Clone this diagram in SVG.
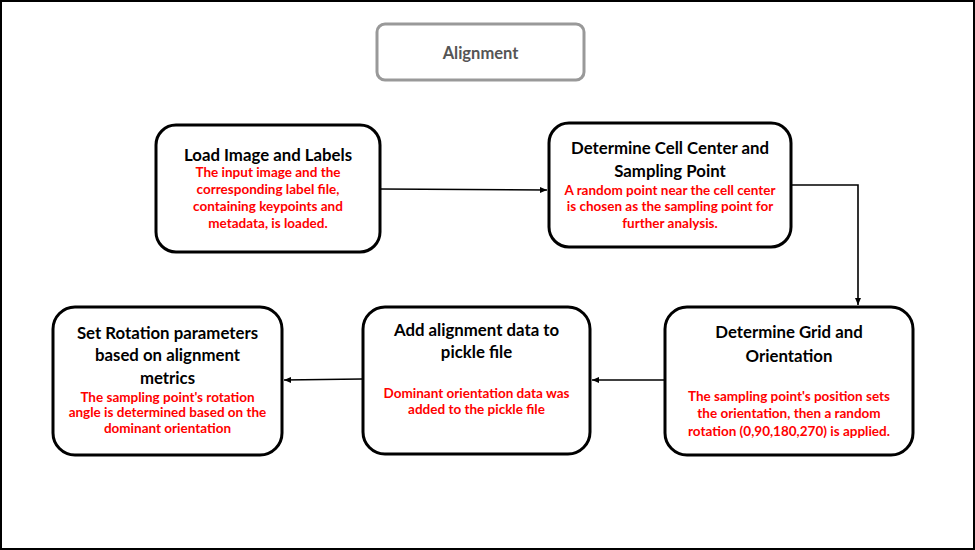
<svg xmlns="http://www.w3.org/2000/svg" width="975" height="550" viewBox="0 0 975 550">
<defs>
<style>
.box{fill:#fff;stroke:#000;stroke-width:3}
.t{font-family:Lato,"Liberation Sans",sans-serif;font-weight:bold;font-size:16.8px;fill:#000;text-anchor:middle}
.r{font-family:Lato,"Liberation Sans",sans-serif;font-weight:bold;font-size:13.5px;fill:#ff0000;text-anchor:middle}
.c{fill:none;stroke:#000;stroke-width:1.6}
</style>
<marker id="ah" markerWidth="8" markerHeight="8" refX="7" refY="4" orient="auto" markerUnits="userSpaceOnUse">
<path d="M0,1 L7,4 L0,7 Z" fill="#000"/>
</marker>
</defs>
<rect x="0" y="0" width="975" height="550" fill="#fff"/>
<rect x="1" y="1" width="973" height="548" fill="none" stroke="#000" stroke-width="2"/>
<g id="title">
<rect x="377" y="24" width="207" height="56" rx="8" fill="#fff" stroke="#999" stroke-width="3"/>
<text x="480.5" y="59" style="font-family:Lato,'Liberation Sans',sans-serif;font-weight:bold;font-size:16.5px;fill:#555;text-anchor:middle">Alignment</text>
</g>
<g id="connectors">
<path class="c" d="M380,189 L547,190" marker-end="url(#ah)"/>
<path class="c" d="M791,185 L858,185 L858,305" marker-end="url(#ah)"/>
<path class="c" d="M665,380 L592,380" marker-end="url(#ah)"/>
<path class="c" d="M362,379 L284,380" marker-end="url(#ah)"/>
</g>
<g id="n1">
<rect class="box" x="156" y="125" width="224" height="127" rx="20"/>
<text class="t" x="268" y="161">Load Image and Labels</text>
<text class="r" x="268" y="177">The input image and the</text>
<text class="r" x="268" y="194">corresponding label file,</text>
<text class="r" x="268" y="211">containing keypoints and</text>
<text class="r" x="268" y="228">metadata, is loaded.</text>
</g>
<g id="n2">
<rect class="box" x="549" y="123" width="242" height="124" rx="20"/>
<text class="t" x="670" y="154">Determine Cell Center and</text>
<text class="t" x="670" y="177">Sampling Point</text>
<text class="r" x="670" y="195">A random point near the cell center</text>
<text class="r" x="670" y="211">is chosen as the sampling point for</text>
<text class="r" x="670" y="228">further analysis.</text>
</g>
<g id="n3">
<rect class="box" x="665" y="307" width="248" height="148" rx="22"/>
<text class="t" x="789" y="338">Determine Grid and</text>
<text class="t" x="789" y="362">Orientation</text>
<text class="r" x="789" y="401">The sampling point's position sets</text>
<text class="r" x="789" y="418">the orientation, then a random</text>
<text class="r" x="789" y="436">rotation (0,90,180,270) is applied.</text>
</g>
<g id="n4">
<rect class="box" x="363" y="307" width="227" height="147" rx="22"/>
<text class="t" x="476.5" y="336">Add alignment data to</text>
<text class="t" x="476.5" y="358">pickle file</text>
<text class="r" x="476.5" y="398">Dominant orientation data was</text>
<text class="r" x="476.5" y="414">added to the pickle file</text>
</g>
<g id="n5">
<rect class="box" x="53" y="307" width="229" height="148" rx="22"/>
<text class="t" x="167.5" y="339">Set Rotation parameters</text>
<text class="t" x="167.5" y="361">based on alignment</text>
<text class="t" x="167.5" y="384">metrics</text>
<text class="r" x="167.5" y="402">The sampling point's rotation</text>
<text class="r" x="167.5" y="417">angle is determined based on the</text>
<text class="r" x="167.5" y="433">dominant orientation</text>
</g>
</svg>
